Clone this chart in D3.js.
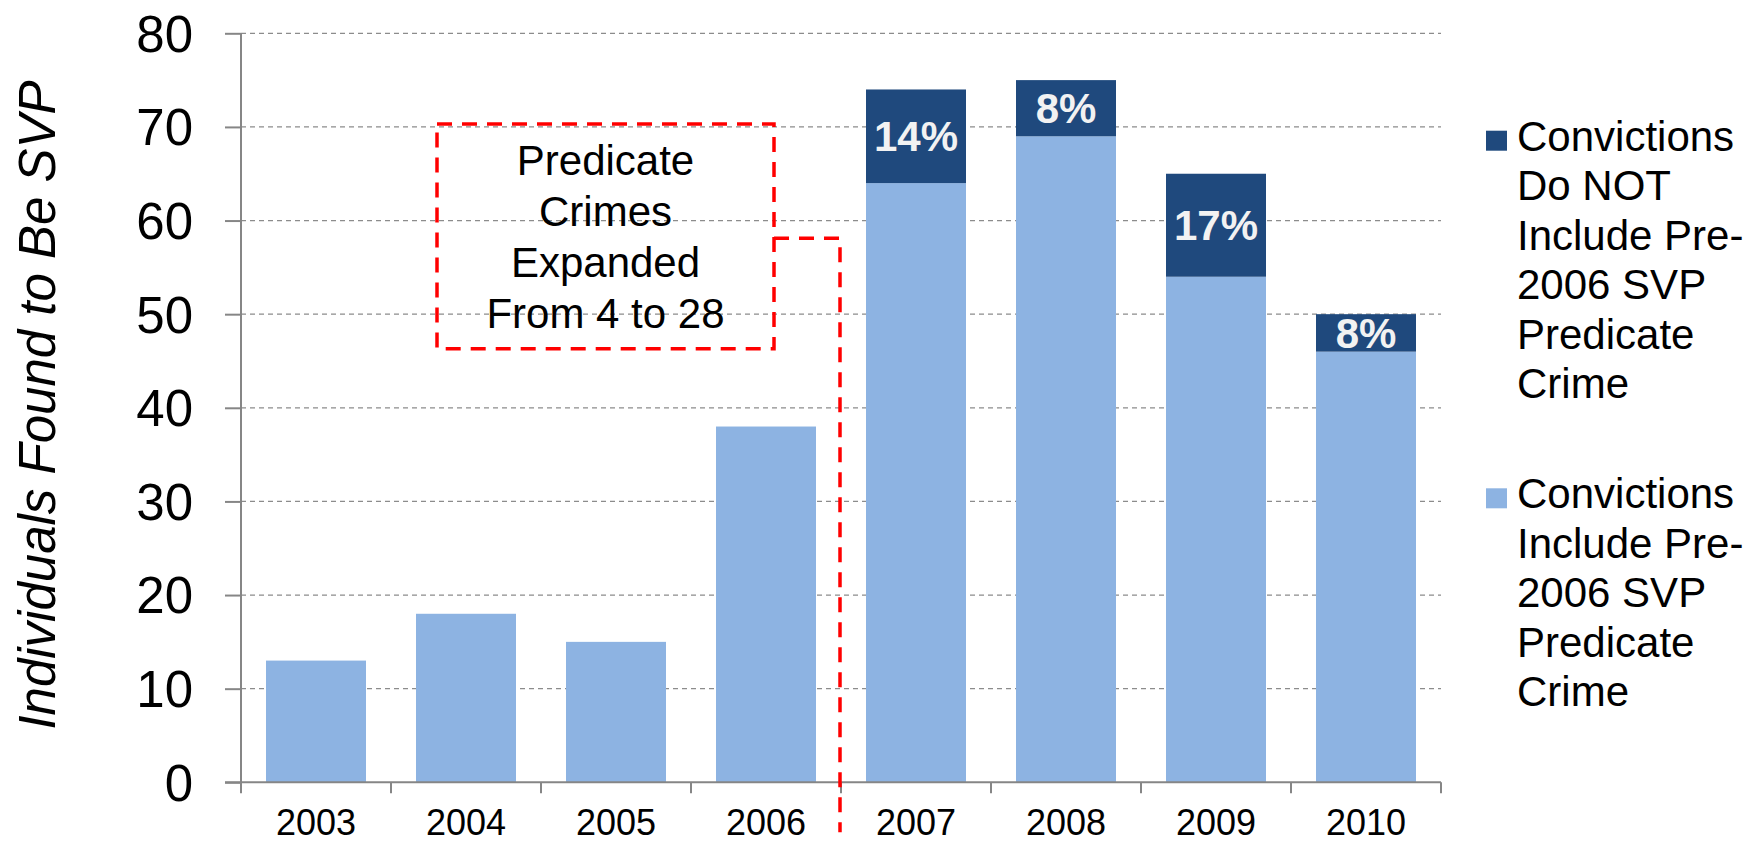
<!DOCTYPE html>
<html>
<head>
<meta charset="utf-8">
<script src="https://cdn.jsdelivr.net/npm/d3@7"></script>
<style>
  body { margin: 0; background: #fff; }
  svg { display: block; font-family: "Liberation Sans", Arial, sans-serif; }
</style>
</head>
<body>
<script>
var years = ["2003", "2004", "2005", "2006", "2007", "2008", "2009", "2010"];
var includePre2006 = [13, 18, 15, 38, 64, 69, 54, 46];
var notIncludePre2006 = [0, 0, 0, 0, 10, 6, 11, 4];
var yTicks = [0, 10, 20, 30, 40, 50, 60, 70, 80];
var seriesNames = [
  ["Convictions", "Do NOT", "Include Pre-", "2006 SVP", "Predicate", "Crime"],
  ["Convictions", "Include Pre-", "2006 SVP", "Predicate", "Crime"]
];
var noteLines = ["Predicate", "Crimes", "Expanded", "From 4 to 28"];

var width = 1760,
    height = 843;
var margin = {top: 33.3, left: 241, right: 319, bottom: 60.7};
var plotW = width - margin.left - margin.right,
    plotH = height - margin.top - margin.bottom;

var darkBlue = "#1f497d",
    lightBlue = "#8db3e2",
    axisGray = "#868686";

var data = years.map(function(y, i) {
  return {year: y, inc: includePre2006[i], not: notIncludePre2006[i]};
});

var x = d3.scaleBand()
    .domain(years)
    .range([0, plotW])
    .paddingInner(1 / 3)
    .paddingOuter(1 / 6);

var y = d3.scaleLinear()
    .domain([0, 80])
    .range([plotH, 0]);

var svg = d3.select("body").append("svg")
    .attr("width", width)
    .attr("height", height);

var g = svg.append("g")
    .attr("transform", "translate(" + margin.left + "," + margin.top + ")");

// gridlines
g.selectAll(".grid")
    .data(yTicks.filter(function(d) { return d > 0; }))
  .enter().append("line")
    .attr("class", "grid")
    .attr("x1", 0)
    .attr("x2", plotW)
    .attr("y1", function(d) { return y(d); })
    .attr("y2", function(d) { return y(d); })
    .style("stroke", "#8c8c8c")
    .style("stroke-width", 1.3)
    .style("stroke-dasharray", "5,4");

// stacked bars
var stack = d3.stack().keys(["inc", "not"])(data);
var colors = {inc: lightBlue, not: darkBlue};

g.selectAll(".layer")
    .data(stack)
  .enter().append("g")
    .attr("class", "layer")
    .style("fill", function(d) { return colors[d.key]; })
  .selectAll("rect")
    .data(function(d) { return d.filter(function(s) { return s[1] > s[0]; }); })
  .enter().append("rect")
    .attr("x", function(d) { return x(d.data.year); })
    .attr("width", x.bandwidth())
    .attr("y", function(d) { return y(d[1]); })
    .attr("height", function(d) { return y(d[0]) - y(d[1]); });

// percentage labels
g.selectAll(".pct")
    .data(data.filter(function(d) { return d.not > 0; }))
  .enter().append("text")
    .attr("class", "pct")
    .attr("x", function(d) { return x(d.year) + x.bandwidth() / 2; })
    .attr("y", function(d) { return y(d.inc + d.not / 2); })
    .attr("dy", "0.36em")
    .attr("text-anchor", "middle")
    .style("font-size", "42px")
    .style("font-weight", "bold")
    .style("fill", "#f2f2f2")
    .text(function(d) { return Math.round(d.not * 100 / (d.inc + d.not)) + "%"; });

// y axis
var yAxis = d3.axisLeft(y)
    .tickValues(yTicks)
    .tickSize(16)
    .tickSizeOuter(0)
    .tickPadding(32);

var yg = g.append("g").call(yAxis);
yg.select(".domain").remove();
yg.selectAll("line").style("stroke", axisGray).style("stroke-width", 2);
yg.selectAll("text")
    .style("font-size", "51px")
    .style("font-family", "Liberation Sans, Arial, sans-serif")
    .style("fill", "#000")
    .attr("dy", "0.35em");

g.append("line")
    .attr("x1", 0).attr("x2", 0)
    .attr("y1", 0).attr("y2", plotH)
    .style("stroke", axisGray)
    .style("stroke-width", 2);

// x axis
var boundaries = years.map(function(d) { return x(d) - x.step() * x.paddingInner() / 2; });
boundaries.push(plotW);

g.append("line")
    .attr("x1", -16).attr("x2", plotW)
    .attr("y1", plotH).attr("y2", plotH)
    .style("stroke", axisGray)
    .style("stroke-width", 2);

g.selectAll(".xtick")
    .data(boundaries)
  .enter().append("line")
    .attr("class", "xtick")
    .attr("x1", function(d) { return d; })
    .attr("x2", function(d) { return d; })
    .attr("y1", plotH)
    .attr("y2", plotH + 11)
    .style("stroke", axisGray)
    .style("stroke-width", 2);

g.selectAll(".xlabel")
    .data(years)
  .enter().append("text")
    .attr("class", "xlabel")
    .attr("x", function(d) { return x(d) + x.bandwidth() / 2; })
    .attr("y", plotH + 53)
    .attr("text-anchor", "middle")
    .style("font-size", "36px")
    .text(function(d) { return d; });

// y axis title
svg.append("text")
    .attr("transform", "translate(55,405) rotate(-90)")
    .attr("text-anchor", "middle")
    .style("font-size", "51px")
    .style("font-style", "italic")
    .text("Individuals Found to Be SVP");

// annotation box and connector
var note = g.append("g");
var boxL = 196, boxR = 533, boxTop = y(70.3), boxBot = y(46.3);
var splitX = x("2007") - x.step() * x.paddingInner() / 2 - 1;

note.append("rect")
    .attr("x", boxL)
    .attr("y", boxTop)
    .attr("width", boxR - boxL)
    .attr("height", boxBot - boxTop)
    .style("fill", "none")
    .style("stroke", "#ff0000")
    .style("stroke-width", 3.5)
    .style("stroke-dasharray", "15,10");

note.append("path")
    .attr("d", "M" + boxR + "," + y(58.1) + "H" + splitX + "V" + (plotH + 50))
    .style("fill", "none")
    .style("stroke", "#ff0000")
    .style("stroke-width", 3.5)
    .style("stroke-dasharray", "15,10");

note.selectAll("text")
    .data(noteLines)
  .enter().append("text")
    .attr("x", (boxL + boxR) / 2)
    .attr("y", function(d, i) { return boxTop + 51 + i * 51; })
    .attr("text-anchor", "middle")
    .style("font-size", "42px")
    .text(function(d) { return d; });

// legend
var legendColors = [darkBlue, lightBlue];
var legendTop = [150.7, 508.3];
var lineH = 49.5;

var legend = svg.selectAll(".legend")
    .data(seriesNames)
  .enter().append("g")
    .attr("class", "legend")
    .attr("transform", function(d, i) { return "translate(1486," + legendTop[i] + ")"; });

legend.append("rect")
    .attr("x", 0)
    .attr("y", -20)
    .attr("width", 21)
    .attr("height", 20)
    .style("fill", function(d, i) { return legendColors[i]; });

legend.selectAll("text")
    .data(function(d) { return d; })
  .enter().append("text")
    .attr("x", 31)
    .attr("y", function(d, i) { return i * lineH; })
    .style("font-size", "42px")
    .text(function(d) { return d; });
</script>
</body>
</html>
